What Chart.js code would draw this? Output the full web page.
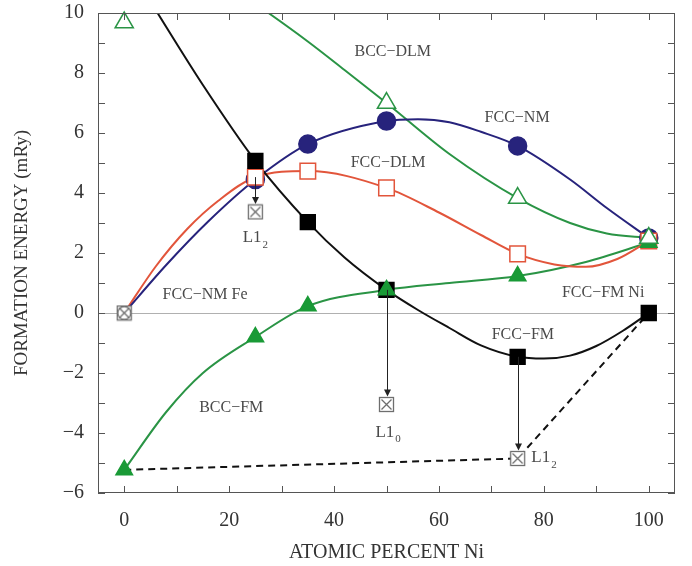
<!DOCTYPE html>
<html lang="en">
<head>
<meta charset="UTF-8">
<title>Fe–Ni formation energies</title>
<script src="https://cdn.jsdelivr.net/npm/chart.js"></script>
<style>
  body { margin: 0; background: #fff; }
  #wrap { width: 692px; height: 566px; }
</style>
</head>
<body>
<div id="wrap"><canvas id="energyChart"></canvas></div>
<script>
// computed compositions, at.% Ni
const compX = [0, 25, 35, 50, 75, 100];
// formation energies at those compositions, mRy (null = not computed)
const fccFM  = [null, 5.07, 3.03, 0.77, -1.46, 0.0];
const fccNM  = [null, 4.45, 5.63, 6.40, 5.57, 2.50];
const fccDLM = [null, 4.53, 4.73, 4.17, 1.97, 2.40];
const bccDLM = [9.68, null, null, 7.00, 3.83, 2.50];
const bccFM  = [-5.23, -0.80, 0.23, 0.77, 1.23, 2.35];

// ordered structures (L1_2, L1_0, L1_2) and the pure Fe reference
const orderedX = [0, 25, 50, 75];
const orderedE = [0, 3.37, -3.05, -4.85];

// lower hull through the ground states
const hullX = [0, 75, 100];
const hullE = [-5.23, -4.85, 0];

// fitted curves
const fccFMCurveX  = [0, 6, 15, 25, 35, 42, 50, 56, 62, 68, 75, 80, 85, 90, 95, 100];
const fccFMCurveY  = [11.8, 10.1, 7.6, 5.07, 3.03, 1.85, 0.77, 0.1, -0.5, -1.08, -1.46, -1.52, -1.42, -1.1, -0.6, 0];
const fccNMCurveX  = [0, 8, 16, 25, 35, 50, 56, 62, 68, 75, 85, 92, 100];
const fccNMCurveY  = [0, 1.6, 3.05, 4.45, 5.63, 6.40, 6.46, 6.36, 6.04, 5.57, 4.45, 3.5, 2.5];
const fccDLMCurveX = [0, 6, 12, 18, 25, 35, 50, 60, 68, 75, 82, 88, 94, 100];
const fccDLMCurveY = [0, 1.55, 2.8, 3.75, 4.53, 4.73, 4.17, 3.35, 2.6, 1.97, 1.62, 1.54, 1.8, 2.4];
const bccDLMCurveX = [20, 27.5, 35, 42, 50, 62, 75, 85, 92, 100];
const bccDLMCurveY = [10.9, 10, 9.05, 8.1, 7.0, 5.3, 3.83, 3.0, 2.65, 2.5];
const bccFMCurveX  = [0, 8, 15, 25, 35, 50, 62, 75, 88, 100];
const bccFMCurveY  = [-5.23, -3.3, -2.0, -0.8, 0.23, 0.77, 1.0, 1.23, 1.7, 2.35];

// arrows: from energy of the disordered phase down to the ordered one
const arrowX    = [25, 50, 75];
const arrowFrom = [4.53, 0.77, -1.46];
const arrowTo   = [3.37, -3.05, -4.85];

const xTickValues = [0, 20, 40, 60, 80, 100];

// text labels on the plot (x, y in data units)
const labelText = ['BCC−DLM', 'FCC−NM', 'FCC−DLM', 'FCC−NM Fe', 'FCC−FM Ni', 'FCC−FM', 'BCC−FM'];
const labelX    = [51.2, 74.9, 50.3, 15.4, 91.3, 76.0, 20.4];
const labelY    = [8.7, 6.5, 5.0, 0.6, 0.67, -0.73, -3.17];
const orderedLabel = [['L1', '2'], ['L1', '0'], ['L1', '2']];
const orderedLabelX = [25, 50.3, 77.6];
const orderedLabelY = [2.5, -3.97, -4.83];
const orderedLabelAlign = ['center', 'center', 'left'];

const NAVY = '#27237c';
const RED = '#e2553b';
const GREEN = '#2a9445';
const GREEN_FILL = '#199a36';
const GRAY = '#6e6e6e';

function pts(xs, ys) {
  return xs.map((x, i) => ({ x: x, y: ys[i] })).filter(p => p.y !== null);
}

// crossed square symbol for the ordered structures
function crossBox(withCircle) {
  const c = document.createElement('canvas');
  c.width = 17; c.height = 17;
  const g = c.getContext('2d');
  g.strokeStyle = GRAY;
  g.lineWidth = 1.3;
  g.fillStyle = '#fff';
  g.fillRect(1.5, 1.5, 14, 14);
  g.strokeRect(1.5, 1.5, 14, 14);
  g.beginPath();
  g.moveTo(3.5, 3.5); g.lineTo(13.5, 13.5);
  g.moveTo(13.5, 3.5); g.lineTo(3.5, 13.5);
  g.stroke();
  if (withCircle) {
    g.beginPath();
    g.arc(8.5, 8.5, 6.5, 0, Math.PI * 2);
    g.stroke();
  }
  return c;
}
const boxFe = crossBox(true);
const boxOrd = crossBox(false);

function curve(xs, ys, color) {
  return {
    data: pts(xs, ys),
    borderColor: color,
    borderWidth: 2,
    pointRadius: 0,
    cubicInterpolationMode: 'monotone',
    fill: false,
    order: 20
  };
}

function markers(ys, style, radius, fill, border, order) {
  return {
    data: pts(compX, ys),
    showLine: false,
    pointStyle: style,
    pointRadius: radius,
    pointBackgroundColor: fill,
    pointBorderColor: border,
    pointBorderWidth: 1.5,
    clip: false,
    order: order
  };
}

const zeroLine = {
  id: 'zeroLine',
  beforeDatasetsDraw(chart) {
    const { ctx, chartArea: a, scales: { y } } = chart;
    const py = Math.round(y.getPixelForValue(0)) + 0.5;
    ctx.save();
    ctx.strokeStyle = '#b0b0b0';
    ctx.lineWidth = 1;
    ctx.beginPath();
    ctx.moveTo(a.left, py);
    ctx.lineTo(a.right, py);
    ctx.stroke();
    ctx.restore();
  }
};

const arrowsAndText = {
  id: 'arrowsAndText',
  afterDatasetsDraw(chart) {
    const { ctx, scales: { x, y } } = chart;
    ctx.save();
    // vertical arrows
    ctx.strokeStyle = '#222';
    ctx.fillStyle = '#222';
    ctx.lineWidth = 1;
    arrowX.forEach((v, i) => {
      const px = Math.round(x.getPixelForValue(v)) + 0.5;
      const y0 = y.getPixelForValue(arrowFrom[i]);
      const y1 = y.getPixelForValue(arrowTo[i]) - 8;
      ctx.beginPath();
      ctx.moveTo(px, y0);
      ctx.lineTo(px, y1 - 5);
      ctx.stroke();
      ctx.beginPath();
      ctx.moveTo(px, y1);
      ctx.lineTo(px - 3.5, y1 - 7);
      ctx.lineTo(px + 3.5, y1 - 7);
      ctx.closePath();
      ctx.fill();
    });

    // phase labels
    ctx.fillStyle = '#4a4a4a';
    ctx.textBaseline = 'middle';
    ctx.font = '16px "Liberation Serif"';
    ctx.textAlign = 'center';
    labelText.forEach((t, i) => {
      ctx.fillText(t, x.getPixelForValue(labelX[i]), y.getPixelForValue(labelY[i]));
    });

    // ordered structure labels with subscripts
    orderedLabel.forEach((parts, i) => {
      ctx.font = '17px "Liberation Serif"';
      const w1 = ctx.measureText(parts[0]).width;
      ctx.font = '11px "Liberation Serif"';
      const w2 = ctx.measureText(parts[1]).width;
      let px = x.getPixelForValue(orderedLabelX[i]);
      if (orderedLabelAlign[i] === 'center') px -= (w1 + w2 + 1) / 2;
      const py = y.getPixelForValue(orderedLabelY[i]);
      ctx.textAlign = 'left';
      ctx.font = '17px "Liberation Serif"';
      ctx.fillText(parts[0], px, py);
      ctx.font = '11px "Liberation Serif"';
      ctx.fillText(parts[1], px + w1 + 1, py + 7);
    });
    ctx.restore();
  }
};

// box frame with inward ticks on all four sides
const frame = {
  id: 'frame',
  afterDraw(chart) {
    const { ctx, chartArea: a, scales: { x, y } } = chart;
    ctx.save();
    ctx.strokeStyle = '#555';
    ctx.lineWidth = 1;
    ctx.strokeRect(a.left + 0.5, a.top + 0.5, a.width - 1, a.height - 1);
    ctx.beginPath();
    for (let v = 0; v <= 100; v += 10) {
      const px = Math.round(x.getPixelForValue(v)) + 0.5;
      ctx.moveTo(px, a.bottom); ctx.lineTo(px, a.bottom - 7);
      ctx.moveTo(px, a.top); ctx.lineTo(px, a.top + 7);
    }
    for (let v = -6; v <= 10; v++) {
      const py = Math.round(y.getPixelForValue(v)) + 0.5;
      ctx.moveTo(a.left, py); ctx.lineTo(a.left + 7, py);
      ctx.moveTo(a.right, py); ctx.lineTo(a.right - 7, py);
    }
    ctx.stroke();
    ctx.restore();
  }
};

const axisFont = { family: 'Liberation Serif', size: 20 };

new Chart(document.getElementById('energyChart'), {
  type: 'line',
  data: {
    datasets: [
      curve(fccFMCurveX, fccFMCurveY, '#111'),
      curve(fccNMCurveX, fccNMCurveY, NAVY),
      curve(fccDLMCurveX, fccDLMCurveY, RED),
      curve(bccDLMCurveX, bccDLMCurveY, GREEN),
      curve(bccFMCurveX, bccFMCurveY, GREEN),
      {
        data: pts(hullX, hullE),
        borderColor: '#111',
        borderWidth: 2,
        borderDash: [7, 5],
        pointRadius: 0,
        tension: 0,
        order: 15
      },
      {
        data: pts(orderedX, orderedE),
        showLine: false,
        pointStyle: orderedX.map((v, i) => i === 0 ? boxFe : boxOrd),
        pointRadius: 8,
        clip: false,
        order: 9
      },
      markers(fccNM, 'circle', 9, NAVY, NAVY, 8),
      markers(fccDLM, 'rect', 11, '#fff', RED, 7),
      markers(fccFM, 'rect', 10.5, '#000', '#000', 6),
      markers(bccFM, 'triangle', 9.5, GREEN_FILL, GREEN_FILL, 5),
      markers(bccDLM, 'triangle', 10.5, '#fff', GREEN, 4)
    ]
  },
  options: {
    responsive: true,
    maintainAspectRatio: false,
    animation: false,
    layout: { padding: { top: 13, right: 17, left: 0, bottom: 0 } },
    plugins: { legend: { display: false }, tooltip: { enabled: false } },
    scales: {
      x: {
        type: 'linear',
        min: -5,
        max: 105,
        grid: { display: false, drawTicks: false },
        border: { display: false },
        afterBuildTicks: (s) => { s.ticks = xTickValues.map(v => ({ value: v })); },
        afterFit: (s) => { s.height = 73; s.paddingLeft = 0; s.paddingRight = 0; },
        ticks: { font: axisFont, color: '#333', padding: 16, maxRotation: 0 },
        title: {
          display: true,
          text: 'ATOMIC PERCENT Ni',
          font: axisFont,
          color: '#333',
          padding: { top: 0, bottom: 1 }
        }
      },
      y: {
        min: -6,
        max: 10,
        grid: { display: false, drawTicks: false },
        border: { display: false },
        afterFit: (s) => { s.width = 98; s.paddingTop = 0; s.paddingBottom = 0; },
        ticks: {
          stepSize: 2,
          font: axisFont,
          color: '#333',
          padding: 14,
          callback: (v) => v < 0 ? '−' + Math.abs(v) : String(v)
        },
        title: {
          display: true,
          text: 'FORMATION ENERGY (mRy)',
          font: { family: 'Liberation Serif', size: 19 },
          color: '#333',
          padding: { top: 11, bottom: 0 }
        }
      }
    }
  },
  plugins: [zeroLine, arrowsAndText, frame]
});
</script>
</body>
</html>
